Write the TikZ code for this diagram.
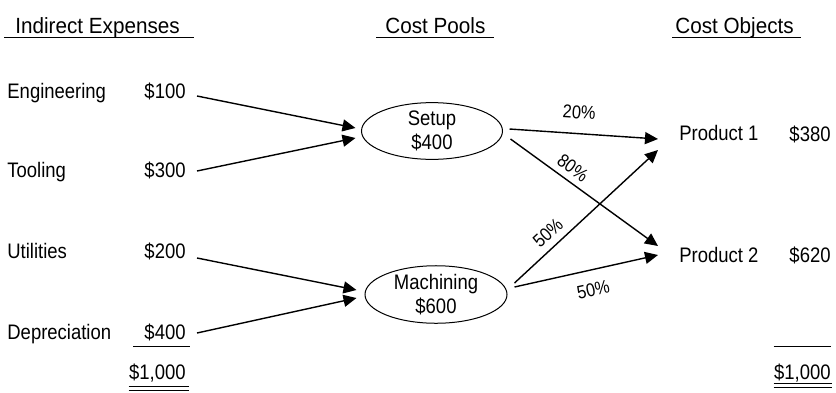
\documentclass[tikz,border=0pt]{standalone}
\usepackage{fontspec}
\setmainfont{Liberation Sans}[FakeStretch=0.88]
\newfontfamily\headfont{Liberation Sans}[FakeStretch=0.94]
\usepackage{tikz}
\usetikzlibrary{shapes.geometric, positioning, arrows.meta}

\tikzset{
  lbl/.style={inner sep=0pt, font=\fontsize{10.5}{12}\selectfont, text height=8pt, text depth=0pt, anchor=base west},
  amt/.style={lbl, anchor=base east},
  head/.style={inner sep=0pt, font=\headfont\fontsize{11}{13}\selectfont, anchor=base west},
  pool/.style={ellipse, draw, line width=0.5pt, inner sep=0pt, align=center, font=\fontsize{10.5}{12}\selectfont},
  flow/.style={-{Triangle[length=6.5pt,width=6pt]}, line width=0.7pt},
  pct/.style={sloped, inner sep=2pt, font=\fontsize{9.3}{10}\selectfont},
  rule/.style={line width=0.5pt}
}

\begin{document}
\begin{tikzpicture}[x=0.5pt, y=-0.5pt]
\useasboundingbox (0,0) rectangle (836,392);

% column heads
\node[head] (hind) at (15,33) {Indirect Expenses};
\node[head] (hpool) at (385,33) {Cost Pools};
\node[head] (hobj) at (675,33) {Cost Objects};
\draw[rule] ([shift={(-11,4)}]hind.base west) -- ([shift={(14,4)}]hind.base east);
\draw[rule] ([shift={(-9,4)}]hpool.base west) -- ([shift={(8,4)}]hpool.base east);
\draw[rule] ([shift={(-3,4)}]hobj.base west) -- ([shift={(7,4)}]hobj.base east);

% indirect expenses
\node[lbl] (eng) at (7,98) {Engineering};
\node[amt] (e100) at (186,98) {\$100};
\node[lbl] (tool) at (7,177) {Tooling};
\node[amt] (e300) at (186,177) {\$300};
\node[lbl] (util) at (7,258) {Utilities};
\node[amt] (e200) at (186,258) {\$200};
\node[lbl] (depr) at (7,339) {Depreciation};
\node[amt] (e400) at (186,339) {\$400};
\node[amt] (etot) at (186,379) {\$1,000};
\draw[rule] ([shift={(-11,7)}]e400.base west) -- ([shift={(4,7)}]e400.base east);
\draw[rule] ([shift={(0,7)}]etot.base west) -- ([shift={(3,7)}]etot.base east);
\draw[rule] ([shift={(0,11)}]etot.base west) -- ([shift={(3,11)}]etot.base east);

% cost pools
\node[pool, minimum width=70.5pt, minimum height=26.5pt] (setup) at (432,131) {Setup\\\$400};
\node[pool, minimum width=71pt, minimum height=27.5pt] (mach) at (436,294.5) {Machining\\\$600};

% cost objects
\node[lbl] (p1) at (679,140) {Product 1};
\node[amt] (c380) at (831,141) {\$380};
\node[lbl] (p2) at (679,262) {Product 2};
\node[amt] (c620) at (831,262) {\$620};
\node[amt] (ctot) at (831,379) {\$1,000};
\draw[rule] ([shift={(0,-33)}]ctot.base west) -- ([shift={(0,-33)}]ctot.base east);
\draw[rule] ([shift={(0,4)}]ctot.base west) -- ([shift={(1,4)}]ctot.base east);
\draw[rule] ([shift={(0,8)}]ctot.base west) -- ([shift={(1,8)}]ctot.base east);

% expenses into pools
\draw[flow] ([shift={(11,6)}]e100.east) -- ([shift={(-5.5,-3)}]setup.west);
\draw[flow] ([shift={(11,2)}]e300.east) -- ([shift={(-5.5,7)}]setup.west);
\draw[flow] ([shift={(11,8)}]e200.east) -- ([shift={(-8,-4.5)}]mach.west);
\draw[flow] ([shift={(11,2)}]e400.east) -- ([shift={(-8,3.5)}]mach.west);

% pools into objects
\draw[flow] ([shift={(6.5,-2)}]setup.east) -- node[pct, pos=0.46, above=5pt] {20\%} ([shift={(-21,7)}]p1.west);
\draw[flow] ([shift={(7.5,8)}]setup.east) -- node[pct, pos=0.37, above=1pt] {80\%} ([shift={(-21,-8)}]p2.west);
\draw[flow] ([shift={(7,-11.5)}]mach.east) -- node[pct, pos=0.30, above=1.5pt] {50\%} ([shift={(-21,18)}]p1.west);
\draw[flow] ([shift={(7,-7.5)}]mach.east) -- node[pct, pos=0.52, below=4pt] {50\%} ([shift={(-21,1)}]p2.west);

\end{tikzpicture}
\end{document}
